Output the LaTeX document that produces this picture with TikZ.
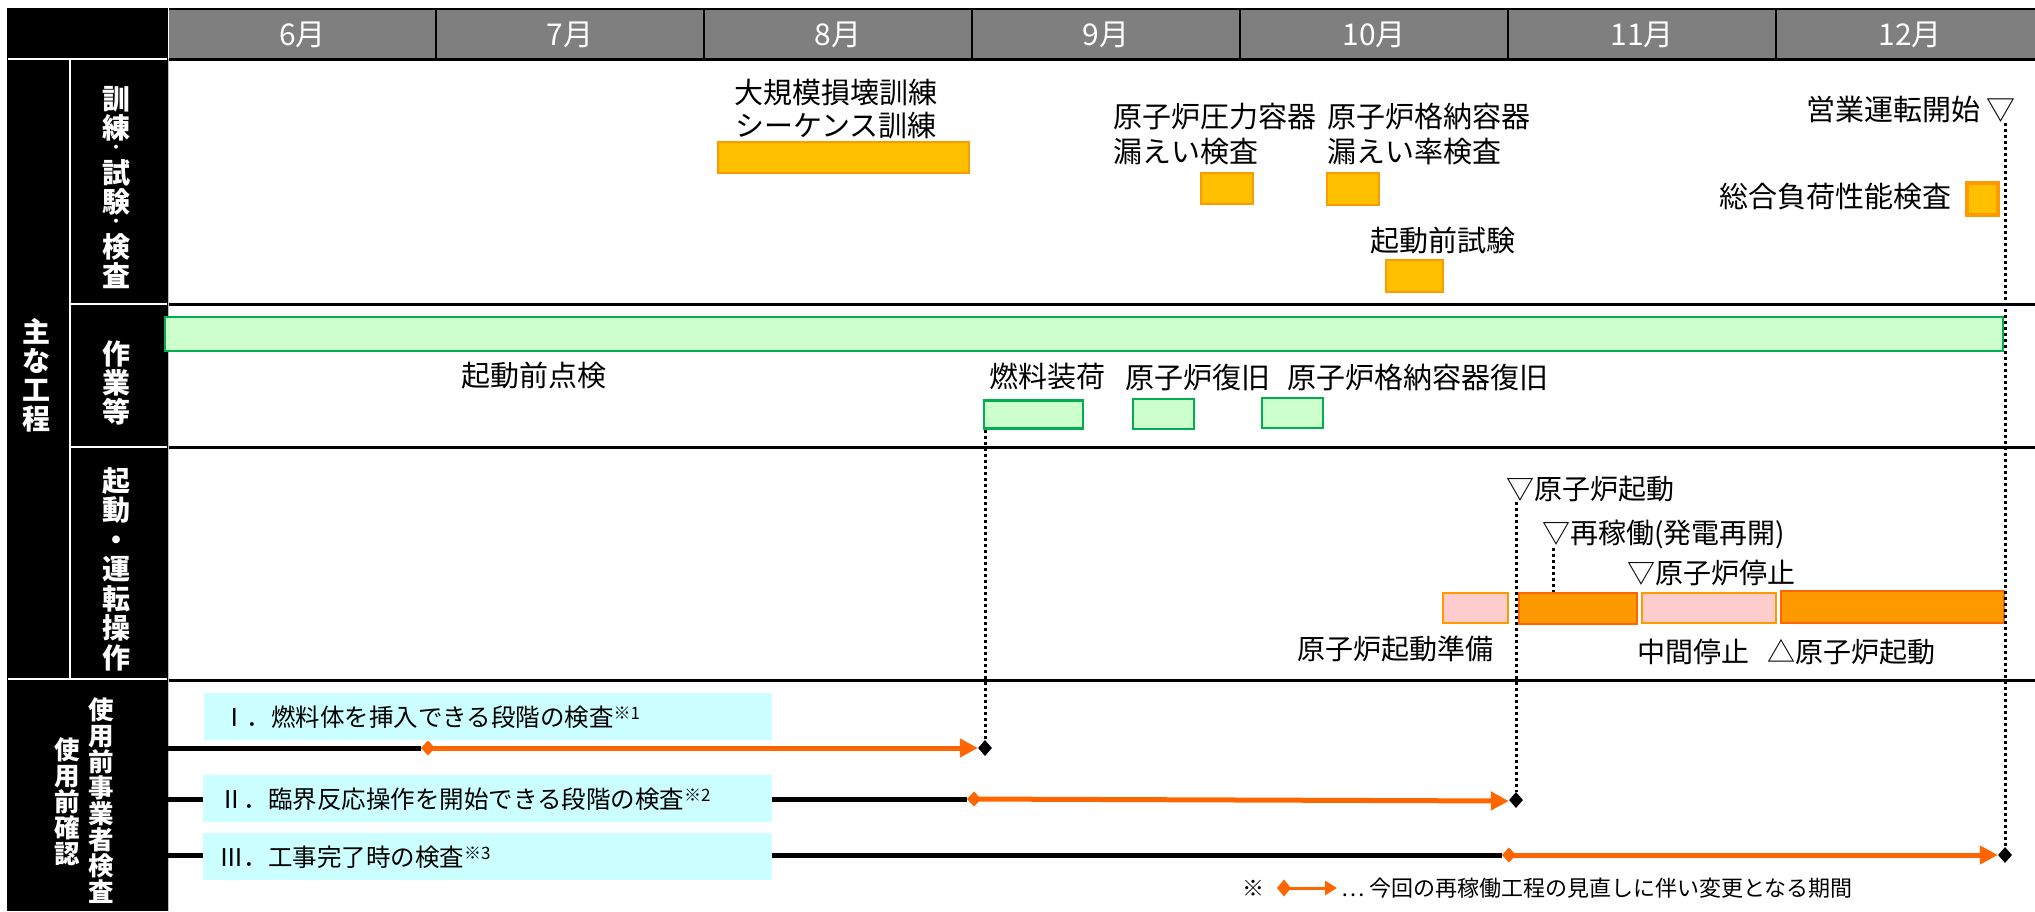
\documentclass[tikz,border=0pt]{standalone}
\usepackage{fontspec}
\setmainfont{Noto Sans CJK JP}
\usetikzlibrary{arrows.meta,shapes.geometric}
\definecolor{hdrgray}{HTML}{7F7F7F}
\definecolor{amber}{HTML}{FFC000}
\definecolor{amberline}{HTML}{FF9900}
\definecolor{lgreen}{HTML}{CCFFCC}
\definecolor{dgreen}{HTML}{00B050}
\definecolor{lpink}{HTML}{FFCCCC}
\definecolor{orng}{HTML}{FF9900}
\definecolor{dorng}{HTML}{FF6600}
\definecolor{lcyan}{HTML}{CCFFFF}
\definecolor{sepgray}{HTML}{BFBFBF}
\newcommand{\myfs}[2]{\fontsize{#1}{#2}\selectfont}
\newcommand{\smdot}{{\myfs{14}{14}・}}
\begin{document}
\begin{tikzpicture}[x=1pt,y=-1pt,
  lbl/.style={inner sep=0pt, font=\myfs{29}{34}},
  lblw/.style={lbl, anchor=west},
  lblr/.style={inner sep=0pt, anchor=west, font=\myfs{28}{32}},
  side/.style={inner sep=0pt, text=white, align=center, font=\bfseries\myfs{28}{29}},
  sideb/.style={inner sep=0pt, text=white, align=center, font=\bfseries\myfs{25.5}{26}},
  month/.style={inner sep=0pt, text=white, font=\myfs{30}{30}},
  amberbox/.style={draw=amberline, fill=amber, line width=2pt, inner sep=0pt},
  amberthick/.style={draw=amberline, fill=amber, line width=4pt, inner sep=0pt},
  greenbox/.style={draw=dgreen, fill=lgreen, line width=2.5pt, inner sep=0pt},
  pinkbox/.style={draw=orng, fill=lpink, line width=2.5pt, inner sep=0pt},
  orangebox/.style={draw=dorng, fill=orng, line width=2.5pt, inner sep=0pt},
  cyanbox/.style={fill=lcyan, inner sep=0pt},
  boxtext/.style={inner sep=0pt, anchor=west, font=\myfs{24.5}{28}},
  dotline/.style={black, line width=3pt, dash pattern=on 3pt off 3pt},
  bline/.style={black, line width=5pt},
  oline/.style={dorng, line width=5pt, arrows={Diamond[length=14pt,width=15pt]-Triangle[length=18pt,width=18pt]}},
  bdia/.style={shape=diamond, fill=black, inner sep=0pt, minimum width=14pt, minimum height=16pt},
  rowline/.style={black, line width=3pt},
  wline/.style={white, line width=2.5pt},
]
\useasboundingbox (0,0) rectangle (2035,911);

% ---------- left black block ----------
\fill[black] (7,8) rectangle (168,911);
\draw[wline] (8,59) -- (167,59);
\draw[wline] (8,679) -- (167,679);
\draw[white, line width=2pt] (70,59) -- (70,679);
\draw[white, line width=2pt] (71,304) -- (167,304);
\draw[white, line width=2pt] (71,447) -- (167,447);
\draw[sepgray, line width=1.5pt] (168.5,59) -- (168.5,911);

\node[side] (n_main) at (37,375) {主\\な\\工\\程};
\node[side] (n_kunren) at (116,188) {訓\\練\\[-15pt]\smdot\\[2pt]試\\験\\[-15pt]\smdot\\[2pt]検\\査};
\node[side] (n_sagyo) at (116,383) {作\\業\\等};
\node[side, font=\bfseries\myfs{28}{29.5}] (n_kido) at (116,569) {起\\動\\・\\運\\転\\操\\作};
\node[sideb] (n_jigyo) at (101,801) {使\\用\\前\\事\\業\\者\\検\\査};
\node[sideb] (n_kakunin) at (67,802) {使\\用\\前\\確\\認};

% ---------- header ----------
\fill[hdrgray] (169,10) rectangle (2035,59);
\draw[black, line width=2pt] (169,9) -- (2035,9);
\foreach \xx in {436,704,972,1240,1508,1776}
  \draw[black, line width=2pt] (\xx,9) -- (\xx,59);
\draw[rowline] (169,59) -- (2035,59);
\node[month] (m6) at (302.5,34.5) {6月};
\node[month] (m7) at (570,34.5) {7月};
\node[month] (m8) at (838,34.5) {8月};
\node[month] (m9) at (1106,34.5) {9月};
\node[month] (m10) at (1374,34.5) {10月};
\node[month] (m11) at (1642,34.5) {11月};
\node[month] (m12) at (1910,34.5) {12月};

% ---------- row lines ----------
\draw[rowline] (169,304) -- (2035,304);
\draw[rowline] (169,447) -- (2035,447);
\draw[rowline] (169,680) -- (2035,680);

% ---------- row 1 : training / tests / inspections ----------
\node[amberbox, minimum width=251pt, minimum height=31pt] (b1) at (843.5,157.5) {};
\node[amberbox, minimum width=52pt, minimum height=31pt] (b2) at (1227,188.5) {};
\node[amberbox, minimum width=52pt, minimum height=32pt] (b3) at (1353,189) {};
\node[amberbox, minimum width=57pt, minimum height=32pt] (b4) at (1414.5,276) {};
\node[amberthick, minimum width=31pt, minimum height=32pt] (b5) at (1982.5,199) {};

\node[lbl, align=center, font=\myfs{29}{33}] (t_daikibo) at (836,109.5) {大規模損壊訓練\\シーケンス訓練};
\node[lbl, align=left, anchor=west, font=\myfs{29}{35}] (t_rpv) at (1113,134.5) {原子炉圧力容器\\漏えい検査};
\node[lbl, align=left, anchor=west, font=\myfs{29}{35}] (t_pcv) at (1327,134.5) {原子炉格納容器\\漏えい率検査};
\node[lblw] (t_kidoshiken) at (1370,241) {起動前試験};
\node[lbl, anchor=east] (t_eigyo) at (2016,109) {営業運転開始 ▽};
\node[lblw] (t_sogo) at (1719,197) {総合負荷性能検査};

% ---------- row 2 : works ----------
\node[greenbox, minimum width=1838pt, minimum height=34pt] (g0) at (1084,334) {};
\node[greenbox, minimum width=99pt, minimum height=28pt] (g1) at (1033.5,414.5) {};
\node[greenbox, minimum width=61pt, minimum height=30pt] (g2) at (1163.5,414) {};
\node[greenbox, minimum width=61pt, minimum height=30pt] (g3) at (1292.5,413) {};

\node[lblw] (t_tenken) at (461,376) {起動前点検};
\node[lblw] (t_nenryo) at (989,376) {燃料装荷};
\node[lblw] (t_rfukkyu) at (1125,377) {原子炉復旧};
\node[lblw] (t_cvfukkyu) at (1287,377) {原子炉格納容器復旧};

% ---------- row 3 : start-up / operation ----------
\node[pinkbox, minimum width=65pt, minimum height=30pt] (p1) at (1475.5,608) {};
\node[orangebox, minimum width=118pt, minimum height=31pt] (o1) at (1578,608.5) {};
\node[pinkbox, minimum width=134pt, minimum height=30pt] (p2) at (1709,608) {};
\node[orangebox, minimum width=223pt, minimum height=32pt] (o2) at (1892.5,607) {};

\node[lblr] (t_kido) at (1506,489) {▽原子炉起動};
\node[lblr] (t_saikado) at (1542,534) {▽再稼働(発電再開)};
\node[lblr] (t_teishi) at (1627,573) {▽原子炉停止};
\node[lblr] (t_junbi) at (1297,649) {原子炉起動準備};
\node[lblr] (t_chukan) at (1637,652) {中間停止};
\node[lblr] (t_kido2) at (1767,652) {△原子炉起動};

% ---------- bottom : inspections ----------
\node[bdia] (d1) at (985,748) {};
\node[bdia] (d2) at (1516,800) {};
\node[bdia] (d3) at (2005,855) {};

\coordinate (l1) at (167,748);
\coordinate (l2) at (167,799);
\coordinate (l3) at (167,855);
\coordinate (s1) at (421,748);
\coordinate (s2) at (967,799);
\coordinate (s3) at (1502,855);

\draw[bline] (l1) -- (s1);
\draw[bline] (l2) -- (s2);
\draw[bline] (l3) -- (s3);
\draw[oline] (s1) -- (d1.west);
\draw[oline] (s2) -- ([yshift=-1pt]d2.west);
\draw[oline] (s3) -- (d3.west);

\node[cyanbox, minimum width=568pt, minimum height=47pt] (c1) at (488,716.5) {};
\node[cyanbox, minimum width=569pt, minimum height=47pt] (c2) at (487.5,798.5) {};
\node[cyanbox, minimum width=569pt, minimum height=47pt] (c3) at (487.5,856.5) {};

\node[boxtext] (bt1) at (222,717) {Ⅰ．燃料体を挿入できる段階の検査\raisebox{7pt}{\myfs{17}{17}※1}};
\node[boxtext] (bt2) at (219,799) {Ⅱ．臨界反応操作を開始できる段階の検査\raisebox{7pt}{\myfs{17}{17}※2}};
\node[boxtext] (bt3) at (219,857) {Ⅲ．工事完了時の検査\raisebox{7pt}{\myfs{17}{17}※3}};

% ---------- dotted connectors ----------
\draw[dotline] (g1.south west -| d1) -- (d1.north);
\coordinate (k1) at (1516,502);
\draw[dotline] (k1) -- (d2.north);
\coordinate (k2) at (1553,548);
\draw[dotline] (k2) -- (k2 |- o1.north);
\coordinate (k3) at (2005,123);
\draw[dotline] (k3) -- (d3.north);

% ---------- legend ----------
\node[inner sep=0pt, font=\myfs{22}{22}] (lg_mark) at (1253,888) {※};
\coordinate (la) at (1277,888);
\coordinate (lb) at (1337,888);
\draw[dorng, line width=3pt, arrows={Diamond[length=14pt,width=17pt]-Triangle[length=12pt,width=14pt]}] (la) -- (lb);
\node[inner sep=0pt, anchor=west, font=\myfs{22}{22}] (lg_text) at (1341,888) {… 今回の再稼働工程の見直しに伴い変更となる期間};
\end{tikzpicture}
\end{document}
